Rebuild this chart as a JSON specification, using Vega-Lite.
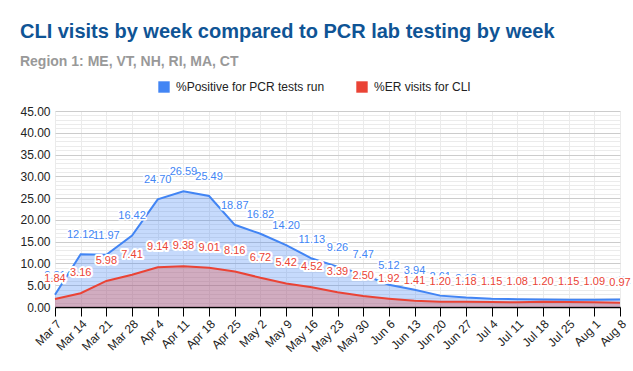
{
  "$schema": "https://vega.github.io/schema/vega-lite/v6.json",
  "width": 565,
  "height": 196,
  "autosize": {"type": "none"},
  "padding": {"left": 55, "top": 111, "right": 13, "bottom": 64},
  "background": "white",
  "config": {
    "font": "Liberation Sans",
    "view": {"stroke": null}
  },
  "title": {
    "text": "CLI visits by week compared to PCR lab testing by week",
    "subtitle": "Region 1: ME, VT, NH, RI, MA, CT",
    "anchor": "start",
    "frame": "bounds",
    "font": "Liberation Sans",
    "fontSize": 20,
    "fontWeight": "bold",
    "color": "#0f5495",
    "subtitleFont": "Liberation Sans",
    "subtitleFontSize": 14,
    "subtitleFontWeight": "bold",
    "subtitleColor": "#999999",
    "subtitlePadding": 13,
    "offset": 12
  },
  "data": {
    "values": [
      {"week": "Mar 7", "series": "%Positive for PCR tests run", "value": 2.81},
      {"week": "Mar 14", "series": "%Positive for PCR tests run", "value": 12.12},
      {"week": "Mar 21", "series": "%Positive for PCR tests run", "value": 11.97},
      {"week": "Mar 28", "series": "%Positive for PCR tests run", "value": 16.42},
      {"week": "Apr 4", "series": "%Positive for PCR tests run", "value": 24.70},
      {"week": "Apr 11", "series": "%Positive for PCR tests run", "value": 26.59},
      {"week": "Apr 18", "series": "%Positive for PCR tests run", "value": 25.49},
      {"week": "Apr 25", "series": "%Positive for PCR tests run", "value": 18.87},
      {"week": "May 2", "series": "%Positive for PCR tests run", "value": 16.82},
      {"week": "May 9", "series": "%Positive for PCR tests run", "value": 14.20},
      {"week": "May 16", "series": "%Positive for PCR tests run", "value": 11.13},
      {"week": "May 23", "series": "%Positive for PCR tests run", "value": 9.26},
      {"week": "May 30", "series": "%Positive for PCR tests run", "value": 7.47},
      {"week": "Jun 6", "series": "%Positive for PCR tests run", "value": 5.12},
      {"week": "Jun 13", "series": "%Positive for PCR tests run", "value": 3.94},
      {"week": "Jun 20", "series": "%Positive for PCR tests run", "value": 2.61},
      {"week": "Jun 27", "series": "%Positive for PCR tests run", "value": 2.18},
      {"week": "Jul 4", "series": "%Positive for PCR tests run", "value": 1.91},
      {"week": "Jul 11", "series": "%Positive for PCR tests run", "value": 1.80},
      {"week": "Jul 18", "series": "%Positive for PCR tests run", "value": 1.71},
      {"week": "Jul 25", "series": "%Positive for PCR tests run", "value": 1.65},
      {"week": "Aug 1", "series": "%Positive for PCR tests run", "value": 1.64},
      {"week": "Aug 8", "series": "%Positive for PCR tests run", "value": 1.72},
      {"week": "Mar 7", "series": "%ER visits for CLI", "value": 1.84},
      {"week": "Mar 14", "series": "%ER visits for CLI", "value": 3.16},
      {"week": "Mar 21", "series": "%ER visits for CLI", "value": 5.98},
      {"week": "Mar 28", "series": "%ER visits for CLI", "value": 7.41},
      {"week": "Apr 4", "series": "%ER visits for CLI", "value": 9.14},
      {"week": "Apr 11", "series": "%ER visits for CLI", "value": 9.38},
      {"week": "Apr 18", "series": "%ER visits for CLI", "value": 9.01},
      {"week": "Apr 25", "series": "%ER visits for CLI", "value": 8.16},
      {"week": "May 2", "series": "%ER visits for CLI", "value": 6.72},
      {"week": "May 9", "series": "%ER visits for CLI", "value": 5.42},
      {"week": "May 16", "series": "%ER visits for CLI", "value": 4.52},
      {"week": "May 23", "series": "%ER visits for CLI", "value": 3.39},
      {"week": "May 30", "series": "%ER visits for CLI", "value": 2.50},
      {"week": "Jun 6", "series": "%ER visits for CLI", "value": 1.92},
      {"week": "Jun 13", "series": "%ER visits for CLI", "value": 1.41},
      {"week": "Jun 20", "series": "%ER visits for CLI", "value": 1.20},
      {"week": "Jun 27", "series": "%ER visits for CLI", "value": 1.18},
      {"week": "Jul 4", "series": "%ER visits for CLI", "value": 1.15},
      {"week": "Jul 11", "series": "%ER visits for CLI", "value": 1.08},
      {"week": "Jul 18", "series": "%ER visits for CLI", "value": 1.20},
      {"week": "Jul 25", "series": "%ER visits for CLI", "value": 1.15},
      {"week": "Aug 1", "series": "%ER visits for CLI", "value": 1.09},
      {"week": "Aug 8", "series": "%ER visits for CLI", "value": 0.97}
    ]
  },
  "encoding": {
    "x": {
      "field": "week",
      "type": "ordinal",
      "sort": null,
      "scale": {"type": "point", "padding": 0},
      "axis": {
        "title": null,
        "labelAngle": -45,
        "labelFontSize": 12,
        "labelColor": "#222222",
        "domainColor": "#000000",
        "domainWidth": 1.5,
        "tickColor": "#000000",
        "tickSize": 9,
        "labelPadding": 2,
        "grid": true,
        "gridColor": "#ebebeb"
      }
    },
    "y": {
      "field": "value",
      "type": "quantitative",
      "stack": null,
      "scale": {"domain": [0, 45], "nice": false},
      "axis": {
        "title": null,
        "values": [0,1,2,3,4,5,6,7,8,9,10,11,12,13,14,15,16,17,18,19,20,21,22,23,24,25,26,27,28,29,30,31,32,33,34,35,36,37,38,39,40,41,42,43,44,45],
        "labelExpr": "datum.value % 5 === 0 ? format(datum.value, '.2f') : ''",
        "labelFontSize": 12,
        "labelColor": "#222222",
        "labelPadding": 5,
        "ticks": false,
        "domain": false,
        "gridColor": {"condition": {"test": "datum.value % 5 === 0", "value": "#cccccc"}, "value": "#ebebeb"}
      }
    },
    "color": {
      "field": "series",
      "type": "nominal",
      "sort": ["%Positive for PCR tests run", "%ER visits for CLI"],
      "scale": {"domain": ["%Positive for PCR tests run", "%ER visits for CLI"], "range": ["#4285f4", "#ea4335"]},
      "legend": {
        "title": null,
        "orient": "none",
        "legendX": 103,
        "legendY": -30,
        "direction": "horizontal",
        "symbolType": "square",
        "symbolSize": 130,
        "labelFontSize": 12,
        "labelColor": "#222222",
        "columnPadding": 31,
        "labelOffset": 6,
        "encode": {
          "symbols": {"update": {"fill": {"scale": "color", "field": "value"}, "opacity": {"value": 1}, "fillOpacity": {"value": 1}, "strokeWidth": {"value": 0}}}
        }
      }
    }
  },
  "layer": [
    {"mark": {"type": "area", "opacity": 0.3}},
    {"mark": {"type": "line", "strokeWidth": 2}},
    {
      "transform": [{"filter": "datum.series === '%Positive for PCR tests run'"}],
      "mark": {"type": "text", "dy": -19, "fontSize": 11, "stroke": "white", "strokeWidth": 3, "strokeJoin": "round"},
      "encoding": {"text": {"field": "value", "type": "quantitative", "format": ".2f"}}
    },
    {
      "transform": [{"filter": "datum.series === '%Positive for PCR tests run'"}],
      "mark": {"type": "text", "dy": -19, "fontSize": 11},
      "encoding": {"text": {"field": "value", "type": "quantitative", "format": ".2f"}}
    },
    {
      "transform": [{"filter": "datum.series === '%ER visits for CLI'"}],
      "mark": {"type": "text", "dy": -20, "fontSize": 11, "stroke": "white", "strokeWidth": 4, "strokeJoin": "round"},
      "encoding": {"text": {"field": "value", "type": "quantitative", "format": ".2f"}}
    },
    {
      "transform": [{"filter": "datum.series === '%ER visits for CLI'"}],
      "mark": {"type": "text", "dy": -20, "fontSize": 11},
      "encoding": {"text": {"field": "value", "type": "quantitative", "format": ".2f"}}
    }
  ]
}
